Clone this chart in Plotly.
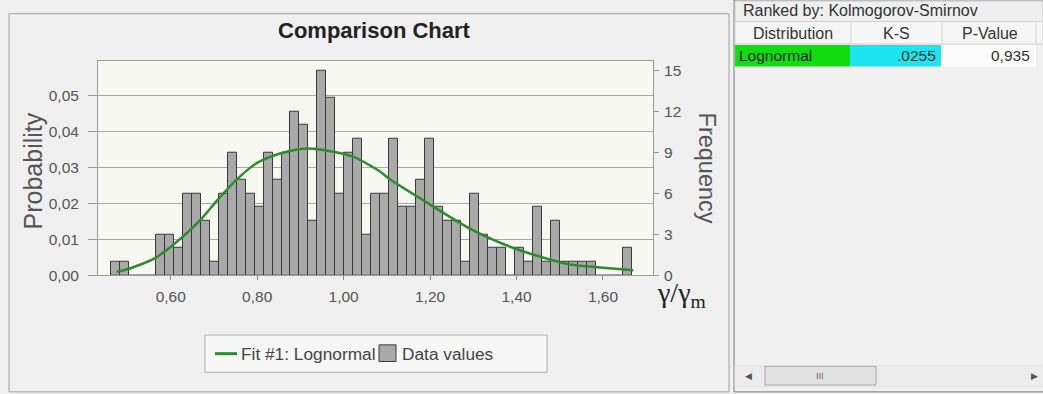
import plotly.graph_objects as go

W, H = 1043, 394

# ---------------- data ----------------
bin_first_center = 0.4715
bin_width = 0.0208
counts = [1, 1, 0, 0, 0, 3, 3, 2, 6, 6, 4, 1, 6, 9, 7, 6, 5, 9, 7, 9,
          12, 11, 4, 15, 13, 6, 9, 10, 3, 6,
          6, 10, 5, 5, 7, 10, 5, 4, 4, 1, 6, 3, 2, 2, 0, 2, 1, 5, 1, 4,
          1, 1, 1, 1, 0, 0, 0, 2]

fit_x = [0.475, 0.498, 0.564, 0.606, 0.668, 0.710, 0.753, 0.799, 0.853, 0.915,
         0.976, 1.022, 1.084, 1.107, 1.192, 1.292, 1.393, 1.477, 1.524, 1.601, 1.670]
fit_p = [0.0010, 0.0016, 0.0048, 0.0085, 0.0153, 0.0212, 0.0267, 0.0312, 0.0339, 0.0353,
         0.0344, 0.0330, 0.0289, 0.0267, 0.0203, 0.0130, 0.0076, 0.0044, 0.0030, 0.0021, 0.0014]

freq_ticks = [0, 3, 6, 9, 12, 15]

table_title = "Ranked by: Kolmogorov-Smirnov"
table_headers = ["Distribution", "K-S", "P-Value"]
distributions = ["Lognormal"]
ks_values = [".0255"]
p_values = ["0,935"]

# ---------------- helpers (page pixel -> paper) ----------------
def px(x):
    return x / W

def py(y):
    return 1 - y / H

FONT = "Liberation Sans, Arial, sans-serif"
N = sum(counts)
prob_max = 0.0597

# plot area in page pixels
PL, PR, PT, PB = 98, 653, 62, 281

fig = go.Figure()

fig.add_trace(go.Bar(
    x0=bin_first_center, dx=bin_width, y=counts, width=bin_width,
    marker=dict(color="#a9a9a9", line=dict(color="#3a3a3a", width=1)),
    yaxis="y", name="Data values", showlegend=False,
))

fig.add_trace(go.Scatter(
    x=fit_x, y=fit_p, mode="lines", yaxis="y2",
    line=dict(color="#2e8b2e", width=2.5, shape="spline", smoothing=0.8),
    name="Fit #1: Lognormal", showlegend=False,
))

shapes = []
annotations = []

def rect(x0, y0, x1, y1, fill="rgba(0,0,0,0)", line="#a0a0a0", lw=1, layer="below"):
    shapes.append(dict(type="rect", xref="paper", yref="paper",
                       x0=px(x0), x1=px(x1), y0=py(y1), y1=py(y0),
                       line=dict(color=line, width=lw), fillcolor=fill, layer=layer))

def text(t, x, y, size, color="#444444", xanchor="center", angle=0, family=FONT):
    annotations.append(dict(text=t, x=px(x), y=py(y), xref="paper", yref="paper",
                            xanchor=xanchor, yanchor="middle", showarrow=False,
                            textangle=angle, font=dict(family=family, size=size, color=color)))

# chart panel frame
rect(9, 14, 729, 400, line="#a0a0a0")

# table panel
rect(734, 0, 1046, 400, fill="#f0f0f0", line="#7a7a7a")
rect(735, 1, 1043, 22, fill="#efefef", line="#c8c8c8")          # ranked-by row
rect(735, 22, 1043, 45, fill="#f6f6f6", line="#d0d0d0")         # header row
for sx in [851, 942, 1036]:
    shapes.append(dict(type="line", xref="paper", yref="paper",
                       x0=px(sx), x1=px(sx), y0=py(45), y1=py(23),
                       line=dict(color="#d0d0d0", width=1), layer="below"))
rect(735, 46, 850, 68, fill="#10dc10", lw=0)
rect(850, 46, 941, 68, fill="#1ce4f0", lw=0)
rect(941, 46, 1036, 68, fill="#fbfbfb", lw=0)
# scrollbar
rect(735, 373, 1043, 395, fill="#ececec", line="#e4e4e4")
rect(765, 374, 876, 393, fill="#e2e2e2", line="#a8a8a8")

# legend box
rect(205, 342, 547, 380, fill="#f7f7f7", line="#b0b0b0")
shapes.append(dict(type="line", xref="paper", yref="paper",
                   x0=px(215), x1=px(237), y0=py(361), y1=py(361),
                   line=dict(color="#2e8b2e", width=3)))
rect(379, 352, 396, 369, fill="#a9a9a9", line="#3a3a3a", layer="above")
text("Fit #1: Lognormal", 239, 361, 17.3, xanchor="left")
text("Data values", 400, 361, 17.3, xanchor="left")

# title and axis titles
text("<b>Comparison Chart</b>", 374, 31, 22, color="#222222")
text("Probability", 33, 175, 25, color="#555555", angle=-90)
text("Frequency", 707, 171, 23.5, color="#555555", angle=90)
text("γ/γ<sub>m</sub>", 681, 301, 28, color="#222222",
     family="Liberation Serif, Times New Roman, serif")

# table text
text(table_title, 741, 11, 16, color="#333333", xanchor="left")
for htxt, hx in zip(table_headers, [793, 896, 990]):
    text(htxt, hx, 34, 16, color="#333333")
for i, (d, k, p) in enumerate(zip(distributions, ks_values, p_values)):
    ry = 57 + 23 * i
    text(d, 737, ry, 15.5, color="#0a2a0a", xanchor="left")
    text(k, 938, ry, 15.5, color="#333333", xanchor="right")
    text(p, 1032, ry, 15.5, color="#333333", xanchor="right")

# scrollbar glyphs
text("◀", 748, 384, 9, color="#555555", family="DejaVu Sans")
text("▶", 1034, 384, 9, color="#555555", family="DejaVu Sans")
text("III", 820, 384, 9, color="#666666")

tickfont = dict(family=FONT, size=15.5, color="#555555")

fig.update_layout(
    width=W, height=H,
    margin=dict(l=0, r=0, t=0, b=0),
    paper_bgcolor="#f0f0f0",
    plot_bgcolor="#f8f8f2",
    separators=", ",
    bargap=0,
    showlegend=False,
    font=dict(family=FONT, size=12, color="#555555"),
    xaxis=dict(
        domain=[px(PL), px(PR)],
        range=[0.4318, 1.7157],
        tick0=0.6, dtick=0.2, tickformat=".2f",
        ticks="outside", ticklen=4, tickcolor="#888888",
        ticklabelstandoff=3,
        showgrid=False, zeroline=False,
        showline=True, linecolor="#9a9a9a", mirror=True,
        tickfont=tickfont,
    ),
    yaxis=dict(
        domain=[py(PB), py(PT)],
        range=[0, prob_max * N],
        side="right",
        tickvals=freq_ticks,
        ticks="outside", ticklen=5, tickcolor="#999999",
        ticklabelstandoff=2,
        showgrid=False, zeroline=False,
        showline=True, linecolor="#9a9a9a",
        tickfont=tickfont,
    ),
    yaxis2=dict(
        overlaying="y",
        side="left",
        range=[0, prob_max],
        dtick=0.01, tickformat=".2f",
        ticks="outside", ticklen=9, tickcolor="#999999",
        ticklabelstandoff=6,
        showgrid=True, gridcolor="#a8a8a8", gridwidth=1,
        zeroline=False,
        showline=True, linecolor="#9a9a9a",
        tickfont=tickfont,
    ),
    shapes=shapes,
    annotations=annotations,
)

# remove the browser's default 8px body margin so the figure fills the window exactly
fig.write_html("out.html", config={"displayModeBar": False},
               post_script="document.body.style.margin='0px';")
